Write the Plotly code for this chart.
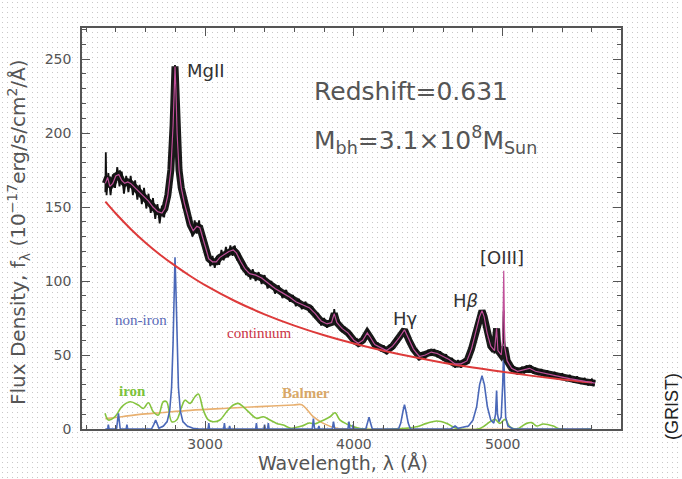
import base64
import plotly.graph_objects as go

# ---------------- data ----------------
obs_wave = [2330, 2333, 2338, 2350, 2365, 2380, 2395, 2410, 2425, 2440, 2455, 2470, 2485, 2500, 2515, 2530,
            2545, 2560, 2575, 2590, 2605, 2620, 2635, 2650, 2665, 2680, 2695, 2710, 2725, 2740, 2755, 2770,
            2785, 2792, 2798, 2804, 2812, 2825, 2840, 2855, 2870, 2885, 2900, 2915, 2930, 2945, 2960, 2975,
            2990, 3005, 3020, 3035, 3050, 3065, 3080, 3095, 3110, 3125, 3140, 3155, 3170, 3185, 3200, 3215,
            3230, 3245, 3260, 3275, 3290, 3305, 3320, 3340, 3360, 3380, 3400, 3420, 3445, 3470, 3495, 3520,
            3545, 3570, 3590, 3610, 3630, 3650, 3675, 3700, 3720, 3740, 3760, 3780, 3800, 3820, 3840, 3860,
            3868, 3880, 3900, 3920, 3940, 3960, 3980, 4000, 4020, 4040, 4060, 4080, 4095, 4110, 4125, 4140,
            4160, 4180, 4200, 4220, 4240, 4260, 4280, 4300, 4320, 4340, 4355, 4370, 4385, 4400, 4420, 4440,
            4460, 4480, 4500, 4520, 4540, 4560, 4580, 4600, 4620, 4640, 4660, 4680, 4700, 4720, 4740, 4760,
            4775, 4790, 4805, 4820, 4833, 4845, 4855, 4861, 4868, 4875, 4885, 4895, 4908, 4920, 4932, 4945,
            4955, 4959, 4963, 4968, 4980, 4990, 4998, 5002, 5007, 5011, 5016, 5025, 5040, 5055, 5070, 5085,
            5100, 5115, 5130, 5145, 5160, 5175, 5190, 5205, 5220, 5240, 5260, 5280, 5300, 5325, 5350, 5375,
            5400, 5425, 5450, 5475, 5500, 5525, 5550, 5575, 5600, 5610, 5620]
obs_flux = [160, 187, 158, 173, 158, 172, 163, 177, 164, 174, 159, 171, 160, 171, 158, 168,
            155, 165, 152, 163, 149, 159, 146, 156, 142, 152, 139, 151, 143, 158, 158, 178,
            203, 232, 246, 228, 203, 171, 167, 149, 155, 139, 143, 130, 141, 132, 141, 127,
            131, 117, 120, 110, 117, 109, 117, 111, 121, 114, 123, 116, 124, 117, 124, 114,
            119, 108, 113, 104, 109, 101, 108, 100, 106, 98, 104, 95, 100, 91.5, 97, 88.5,
            94, 86, 90.5, 83, 88, 81, 86, 79, 83, 75, 78.5, 70, 75, 68.5, 74, 73,
            81, 71, 73, 65.5, 69, 62.5, 65, 57.5, 61, 56, 62.5, 61, 67, 59.5, 62, 54.5,
            58.5, 52.5, 56.5, 50.5, 57, 53.5, 61, 59, 66, 65, 66, 57.5, 59.5, 51.5, 54, 46.5,
            52, 47.5, 53.5, 49.5, 54, 48.5, 52.5, 46.5, 50.5, 44.5, 48, 41.5, 46.5, 41.5, 47.5, 44,
            52, 52, 62, 64, 73, 74, 80, 78.5, 80, 74, 72.5, 63, 62.5, 54, 56.5, 51,
            62, 68, 58, 55, 49.5, 52, 54, 62, 80, 60, 54, 45, 47, 39.5, 43, 37.5,
            41.5, 37, 42, 37.5, 43, 38.5, 43, 37.5, 41.5, 36.5, 40.5, 35.5, 39.5, 34.5, 38.5, 33.5,
            37.5, 32.5, 36.5, 31.5, 35.5, 30.5, 34.5, 29.5, 34, 29, 33]

model_wave = [2330, 2345, 2360, 2380, 2400, 2420, 2440, 2460, 2480, 2500, 2530, 2560, 2590, 2620, 2650, 2680,
              2710, 2730, 2750, 2770, 2785, 2792, 2798, 2804, 2812, 2825, 2840, 2860, 2880, 2900, 2920, 2945,
              2965, 2985, 3005, 3025, 3050, 3075, 3100, 3130, 3160, 3190, 3210, 3240, 3270, 3300, 3340, 3380,
              3420, 3470, 3520, 3570, 3610, 3650, 3700, 3740, 3780, 3820, 3850, 3868, 3885, 3920, 3960, 4000,
              4030, 4060, 4090, 4110, 4140, 4180, 4220, 4260, 4300, 4340, 4370, 4400, 4440, 4480, 4520, 4560,
              4600, 4640, 4680, 4720, 4760, 4790, 4820, 4845, 4861, 4875, 4895, 4920, 4945, 4959, 4968, 4990,
              5000, 5007, 5014, 5030, 5060, 5100, 5140, 5180, 5220, 5260, 5300, 5350, 5400, 5450, 5500, 5550,
              5600, 5620]
model_flux = [166, 170, 164, 166, 171, 172, 168, 166, 167, 166, 163, 160, 157, 154, 150, 147,
              146, 149, 158, 175, 205, 230, 245, 230, 200, 175, 163, 153, 146, 138, 134, 137,
              136, 129, 121, 115, 113, 113, 116, 118, 120, 121, 119, 113, 108, 105, 104, 102,
              99, 95, 92, 89, 86, 84, 82, 78, 73, 71, 72, 78, 72, 68, 65, 60,
              58, 60, 65, 62, 57, 55, 53, 56, 61, 67, 60, 54, 49, 50, 52, 51,
              49, 47, 44, 44, 46, 54, 66, 76, 80, 76, 65, 56, 53, 68, 53, 50,
              60, 107, 55, 46, 41, 39, 40, 41, 39, 38, 37, 36, 35, 34, 33, 32,
              31, 31]

cont_wave = [2330, 2400, 2500, 2600, 2700, 2800, 2900, 3000, 3200, 3400, 3600, 3800, 4000, 4200, 4400,
             4600, 4800, 5000, 5200, 5400, 5600]
cont_flux = [153.6, 145.6, 135.2, 125.9, 117.6, 110.2, 103.4, 97.2, 86.5, 77.5, 69.9, 63.4, 57.8, 52.9, 48.6,
             44.8, 41.5, 38.6, 35.9, 33.5, 31.4]

noniron_wave = [2330, 2345, 2350, 2355, 2405, 2412, 2418, 2424, 2430, 2470, 2475, 2480, 2640, 2655, 2668, 2680,
                2690, 2720, 2745, 2762, 2775, 2785, 2792, 2798, 2804, 2811, 2821, 2834, 2851, 2880, 2920, 2960,
                3020, 3025, 3030, 3125, 3130, 3135, 3160, 3165, 3170, 3340, 3345, 3350, 3395, 3400, 3405, 3420,
                3425, 3430, 3720, 3728, 3736, 3760, 3765, 3770, 3855, 3863, 3871, 3960, 3967, 3974, 3990, 3995,
                4000, 4080, 4092, 4102, 4112, 4124, 4300, 4315, 4330, 4340, 4350, 4365, 4380, 4650, 4680, 4700,
                4770, 4800, 4825, 4845, 4861, 4877, 4897, 4920, 4940, 4952, 4959, 4965, 4975, 4990, 5000, 5007,
                5012, 5020, 5035, 5070, 5600]
noniron_flux = [0, 0, 3, 0, 0, 5, 10.5, 5, 0, 0, 3, 0, 0, 3, 6, 3,
                0.5, 2, 5, 12, 28, 58, 95, 116, 95, 58, 28, 12, 5, 2, 0.5, 0,
                0, 4, 0, 0, 4, 0, 0, 2, 0, 0, 4, 0, 0, 3, 0, 0,
                4, 0, 0, 7, 0, 0, 2, 0, 0, 5, 0, 0, 5, 0, 0, 3,
                0, 0, 4, 8, 4, 0, 0, 4, 12, 16.5, 12, 4, 0, 0, 2, 0.5,
                2, 6, 15, 30, 36, 30, 15, 6, 4, 10, 26, 10, 5, 8, 30, 56,
                30, 8, 2, 0, 0]

iron_wave = [2328, 2350, 2395, 2440, 2496, 2551, 2585, 2619, 2652, 2686, 2719, 2742, 2776, 2809, 2843, 2865,
             2899, 2932, 2955, 2988, 3022, 3055, 3100, 3145, 3190, 3223, 3257, 3291, 3347, 3391, 3436, 3481,
             3526, 3571, 3600, 3650, 3700, 3740, 3772, 3840, 3873, 3907, 3952, 4041, 4346, 4420, 4489, 4556,
             4624, 4691, 4848, 4915, 4949, 4982, 5016, 5049, 5094, 5161, 5195, 5228, 5273, 5340, 5385, 5600]
iron_flux = [10.6, 6.1, 8.3, 15, 18.4, 16.2, 13.9, 17.7, 11.7, 9.4, 18.4, 18.4, 4.9, 6.1, 15, 19.5,
             17.3, 21.8, 23.6, 12.8, 6.1, 4.9, 6.1, 11.7, 16.2, 17.3, 15, 11.7, 7.2, 8.3, 6.1, 3.8,
             2.7, 0.6, 0.8, 2, 4, 3.5, 4.9, 8.3, 11, 6, 3.4, 0.3, 0.4, 1.5, 3.8, 5.4,
             3.8, 0.4, 0.4, 4.9, 6.5, 3.8, 6.5, 1.5, 0, 3.8, 4.3, 2, 3.4, 2, 0, 0]

balmer_wave = [2330, 2450, 2600, 2700, 2900, 3145, 3400, 3593, 3650, 3690, 3727, 3795, 3884, 3960, 5600]
balmer_flux = [7, 8.5, 10.2, 11, 12.6, 14, 15.3, 16.2, 16.4, 12.5, 8.3, 3.8, 0.5, 0, 0]

x_ticks = [3000, 4000, 5000]
y_ticks = [0, 50, 100, 150, 200, 250]

# ---------------- figure ----------------
W, H = 682, 479
L, R, T, B = 82, 61, 28, 50
pw, ph = W - L - R, H - T - B

# the dark noise band follows the fit but not the narrow [OIII] 5007 spike
core = [(w, f) for w, f in zip(model_wave, model_flux) if not (4995 < w < 5012)]
core_wave = [c[0] for c in core]
core_flux = [c[1] for c in core]

fig = go.Figure()
fig.add_trace(go.Scatter(x=balmer_wave, y=balmer_flux, mode="lines", line_shape="spline",
                         line=dict(color="#e8b070", width=1.6), hoverinfo="skip"))
fig.add_trace(go.Scatter(x=iron_wave, y=iron_flux, mode="lines", line_shape="spline",
                         line=dict(color="#86c440", width=1.6), hoverinfo="skip"))
fig.add_trace(go.Scatter(x=noniron_wave, y=noniron_flux, mode="lines",
                         line=dict(color="#4a68b8", width=1.6), hoverinfo="skip"))
fig.add_trace(go.Scatter(x=core_wave, y=core_flux, mode="lines",
                         line=dict(color="#1a1a1a", width=7), hoverinfo="skip"))
fig.add_trace(go.Scatter(x=obs_wave, y=obs_flux, mode="lines",
                         line=dict(color="#111111", width=1.8), hoverinfo="skip"))
fig.add_trace(go.Scatter(x=cont_wave, y=cont_flux, mode="lines", line_shape="spline",
                         line=dict(color="#dd3a3a", width=2), hoverinfo="skip"))
fig.add_trace(go.Scatter(x=model_wave, y=model_flux, mode="lines",
                         line=dict(color="#c0509a", width=1.2), hoverinfo="skip"))

gray = "#555555"
axis_common = dict(showline=True, linecolor=gray, linewidth=1.5, mirror="ticks", ticks="inside",
                   ticklen=8, tickwidth=1.2, tickcolor=gray, showgrid=False, zeroline=False,
                   tickfont=dict(family="DejaVu Sans", size=14, color=gray))
fig.update_xaxes(range=[2173, 5795], tickvals=x_ticks, ticklabelstandoff=1,
                 minor=dict(dtick=200, tick0=0, ticks="inside", ticklen=4, tickcolor=gray, showgrid=False),
                 **axis_common)
fig.update_yaxes(range=[0, 271], tickvals=y_ticks, ticklabelstandoff=6,
                 minor=dict(dtick=10, tick0=0, ticks="inside", ticklen=4, tickcolor=gray, showgrid=False),
                 **axis_common)

ann = []
def add(text, x, y, size, color, family="DejaVu Sans", xanchor="center", xref="x", yref="y", angle=0):
    ann.append(dict(text=text, x=x, y=y, xref=xref, yref=yref, showarrow=False, xanchor=xanchor,
                    yanchor="middle", textangle=angle, font=dict(family=family, size=size, color=color)))

add("MgII", 3006, 242, 18, "#333333")
add("Redshift=0.631", 3719, 228, 25, gray, xanchor="left")
add("M<sub>bh</sub>=3.1×10<sup>8</sup>M<sub>Sun</sub>", 3719, 195, 25, gray, xanchor="left")
add("non-iron", 2570, 73.4, 15, "#5a6ab8", family="Liberation Serif")
add("continuum", 3363, 64.7, 15, "#cc3344", family="Liberation Serif")
add("<b>iron</b>", 2509, 25.6, 15, "#7cc23a", family="Liberation Serif")
add("<b>Balmer</b>", 3678, 24.3, 15, "#d8a868", family="Liberation Serif")
add("Hγ", 4344, 74.8, 18, "#333333")
add("H<i>β</i>", 4747, 86.9, 18, "#333333")
add("[OIII]", 4996, 115.9, 18, "#333333")
add("Flux Density, f<sub>λ</sub> (10<sup>−17</sup>erg/s/cm<sup>2</sup>/Å)", (18 - L) / pw, (429 - 232) / ph,
    20, gray, xref="paper", yref="paper", angle=-90)
add("Wavelength, λ (Å)", (343 - L) / pw, (429 - 463) / ph, 19, gray, xref="paper", yref="paper")
add("(GRIST)", (672 - L) / pw, (429 - 407) / ph, 18, "#222222", family="Liberation Sans",
    xref="paper", yref="paper", angle=-90)

# faint dotted page texture
svg = ('<svg xmlns="http://www.w3.org/2000/svg" width="682" height="479">'
       '<defs><pattern id="p" width="5" height="5" patternUnits="userSpaceOnUse">'
       '<rect x="2" y="2" width="1" height="1" fill="#c8c8c8"/></pattern></defs>'
       '<rect width="682" height="479" fill="url(#p)"/></svg>')
src = "data:image/svg+xml;base64," + base64.b64encode(svg.encode()).decode()

fig.update_layout(
    width=W, height=H, margin=dict(l=L, r=R, t=T, b=B),
    paper_bgcolor="white", plot_bgcolor="rgba(0,0,0,0)", showlegend=False,
    annotations=ann,
    images=[dict(source=src, xref="paper", yref="paper", x=-L / pw, y=1 + T / ph,
                 sizex=W / pw, sizey=H / ph, sizing="stretch", xanchor="left", yanchor="top",
                 layer="below")],
)
fig.write_html("out.html")
